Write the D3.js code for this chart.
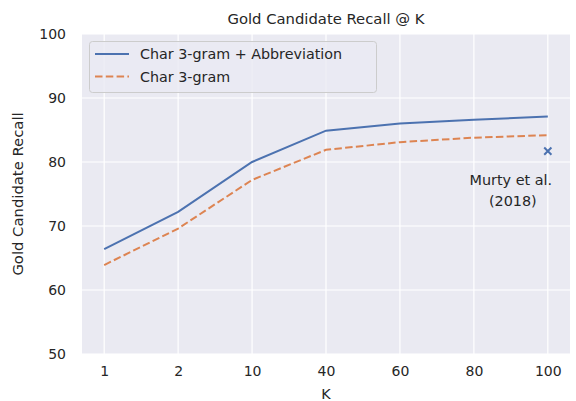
<!DOCTYPE html>
<html><head><meta charset="utf-8">
<script src="https://cdn.jsdelivr.net/npm/d3@7"></script>
<style>body{margin:0;background:#fff}svg text{font-family:"DejaVu Sans",sans-serif;fill:#262626}</style>
</head><body><svg id="c" width="576" height="401"></svg>
<script>
const categories = ["1","2","10","40","60","80","100"];
const abbrevSeries = [66.4, 72.2, 80.0, 84.9, 86.0, 86.6, 87.1];
const charSeries = [63.9, 69.6, 77.2, 81.9, 83.1, 83.8, 84.2];
const murtyPoint = {k: "100", value: 81.7};
const yTicks = [50, 60, 70, 80, 90, 100];
const seriesNames = ["Char 3-gram + Abbreviation", "Char 3-gram"];

const svg = d3.select("#c");
const L = 82, R = 570, T = 34, B = 354;
const x = d3.scalePoint().domain(categories).range([L, R]).padding(0.3);
const y = d3.scaleLinear().domain([50, 100]).range([B, T]);

svg.append("rect").attr("x", L).attr("y", T).attr("width", R - L).attr("height", B - T).attr("fill", "#EAEAF2");
const g = svg.append("g");
g.selectAll(".vg").data(categories).join("line").attr("x1", d => x(d)).attr("x2", d => x(d)).attr("y1", T).attr("y2", B).attr("stroke", "#fff").attr("stroke-width", 1.2);
g.selectAll(".hg").data(yTicks).join("line").attr("x1", L).attr("x2", R).attr("y1", d => y(d)).attr("y2", d => y(d)).attr("stroke", "#fff").attr("stroke-width", 1.2);

const xAxis = svg.append("g").attr("transform", `translate(0,${B})`).call(d3.axisBottom(x).tickSize(0).tickPadding(12));
xAxis.select(".domain").remove();
xAxis.selectAll("text").attr("font-size", 14).attr("fill", "#262626").attr("font-family", "DejaVu Sans");
const yAxis = svg.append("g").attr("transform", `translate(${L},0)`).call(d3.axisLeft(y).tickValues(yTicks).tickSize(0).tickPadding(16));
yAxis.select(".domain").remove();
yAxis.selectAll("text").attr("font-size", 14).attr("fill", "#262626").attr("font-family", "DejaVu Sans");

const line = d3.line().x((d, i) => x(categories[i])).y(d => y(d));
svg.append("path").datum(abbrevSeries).attr("d", line).attr("fill", "none").attr("stroke", "#4C72B0").attr("stroke-width", 2);
svg.append("path").datum(charSeries).attr("d", line).attr("fill", "none").attr("stroke", "#DD8452").attr("stroke-width", 2).attr("stroke-dasharray", "7.5,3.3");

// marker x
const mx = x(murtyPoint.k), my = y(murtyPoint.value), s = 3.6;
svg.append("path").attr("d", `M${mx - s},${my - s}L${mx + s},${my + s}M${mx - s},${my + s}L${mx + s},${my - s}`).attr("stroke", "#4C72B0").attr("stroke-width", 2);
svg.append("text").attr("x", mx - 37).attr("y", my + 34).attr("text-anchor", "middle").attr("font-size", 14.4).text("Murty et al.");
svg.append("text").attr("x", mx - 35).attr("y", my + 55).attr("text-anchor", "middle").attr("font-size", 14.4).text("(2018)");

// title & labels
svg.append("text").attr("x", (L + R) / 2).attr("y", 24).attr("text-anchor", "middle").attr("font-size", 14.8).text("Gold Candidate Recall @ K");
svg.append("text").attr("x", x("40")).attr("y", 399).attr("text-anchor", "middle").attr("font-size", 14.4).text("K");
svg.append("text").attr("transform", `translate(23,${(T + B) / 2}) rotate(-90)`).attr("text-anchor", "middle").attr("font-size", 14.8).text("Gold Candidate Recall");

// legend
const lg = svg.append("g");
lg.append("rect").attr("x", 89.5).attr("y", 41.5).attr("width", 287).attr("height", 51).attr("rx", 3).attr("fill", "#EAEAF2").attr("fill-opacity", 0.8).attr("stroke", "#cccccc").attr("stroke-width", 1);
const colors = ["#4C72B0", "#DD8452"], dashes = [null, "7.5,3.3"];
seriesNames.forEach((n, i) => {
  const yy = 54 + i * 22.5;
  lg.append("line").attr("x1", 95).attr("x2", 129).attr("y1", yy).attr("y2", yy).attr("stroke", colors[i]).attr("stroke-width", 2).attr("stroke-dasharray", dashes[i]);
  lg.append("text").attr("x", 140).attr("y", yy + 5).attr("font-size", 14.3).text(n);
});
</script></body></html>
